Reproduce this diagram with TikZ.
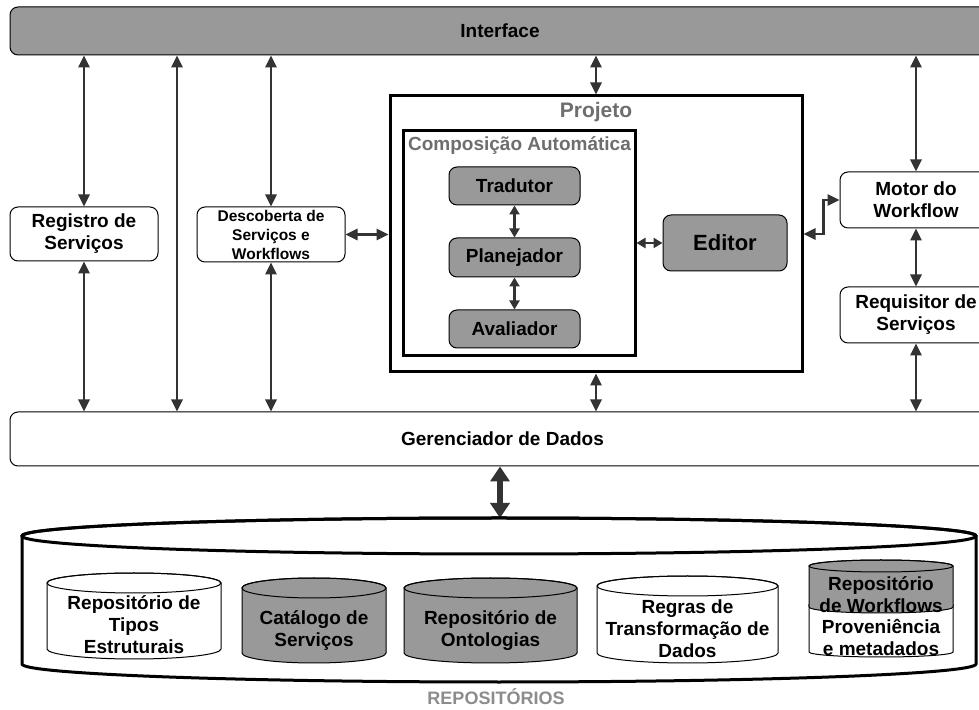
\documentclass[tikz,border=0pt]{standalone}
\usepackage{fontspec}
\setmainfont{Liberation Sans}
\usetikzlibrary{arrows.meta}
\definecolor{boxgray}{HTML}{999999}
\definecolor{arrowgray}{HTML}{333333}
\definecolor{titlegray}{HTML}{6E6E6E}
\definecolor{labelgray}{HTML}{8C8C8C}

\newcommand{\repoCylinder}[6]{%
	\path[draw, line width=1pt, fill=#6] (#1-#2,#3) -- (#1-#2,#4) arc[start angle=180, end angle=360, x radius=#2, y radius=#5] -- (#1+#2,#3) arc[start angle=0, end angle=180, x radius=#2, y radius=#5] -- cycle;
	\draw[line width=1pt] (#1,#3) ellipse[x radius=#2, y radius=#5];
}

\begin{document}
\begin{tikzpicture}[x = 1pt, y = 1pt, font=\fontsize{19}{22}\selectfont\bfseries]
	\tikzstyle{boxStyle} = [draw, rounded corners = 8pt, fill = white, align = center, inner sep = 0pt, line width = 1pt]
	\tikzstyle{grayBoxStyle} = [boxStyle, fill = boxgray]
	\tikzstyle{frameStyle} = [draw, line width = 3pt, inner sep = 0pt, fill = white]
	\tikzstyle{textStyle} = [align = center, inner sep = 0pt]
	\tikzstyle{linkStyle} = [draw = arrowgray, line width = 2.6pt, {Triangle[width = 11pt, length = 12pt]}-{Triangle[width = 11pt, length = 12pt]}]
	\tikzstyle{shortLinkStyle} = [draw = arrowgray, line width = 2.4pt, {Triangle[width = 10pt, length = 9pt]}-{Triangle[width = 10pt, length = 9pt]}]
	\tikzstyle{bigLinkStyle} = [draw = arrowgray, line width = 6pt, {Triangle[width = 19pt, length = 15pt]}-{Triangle[width = 19pt, length = 15pt]}]
	\clip (0,0) rectangle (979,709);
	\fill[white] (0,0) rectangle (979,709);
	\node[grayBoxStyle, minimum width = 980pt, minimum height = 48pt] (ifc) at (500,678) {Interface};
	\node[boxStyle, minimum width = 985pt, minimum height = 54pt] (dat) at (502.5,270) {Gerenciador de Dados};
	\node[boxStyle, minimum width = 148pt, minimum height = 54pt] (reg) at (84,475) {Registro de\\Serviços};
	\node[boxStyle, minimum width = 148pt, minimum height = 55pt, font = \fontsize{15.5}{19}\selectfont\bfseries] (desc) at (271,474.5) {Descoberta de\\Serviços e\\Workflows};
	\node[frameStyle, minimum width = 412pt, minimum height = 276pt] (proj) at (596,475) {};
	\node[textStyle, text = titlegray, font = \fontsize{21}{24}\selectfont\bfseries] (projLabel) at (596,597) {Projeto};
	\node[frameStyle, minimum width = 232pt, minimum height = 225pt] (comp) at (519,465.5) {};
	\node[textStyle, text = titlegray] (compLabel) at (519.5,563) {Composição Automática};
	\node[grayBoxStyle, minimum width = 131pt, minimum height = 38pt] (trad) at (514.5,523) {Tradutor};
	\node[grayBoxStyle, minimum width = 131pt, minimum height = 39pt] (plan) at (514.5,451.5) {Planejador};
	\node[grayBoxStyle, minimum width = 131pt, minimum height = 38pt] (aval) at (514.5,380) {Avaliador};
	\node[grayBoxStyle, minimum width = 124pt, minimum height = 56pt, font = \fontsize{22}{24}\selectfont\bfseries] (edt) at (725,466) {Editor};
	\node[boxStyle, minimum width = 152pt, minimum height = 56pt] (mot) at (916,509) {Motor do\\Workflow};
	\node[boxStyle, minimum width = 152pt, minimum height = 56pt] (req) at (916,394) {Requisitor de\\Serviços};
	\coordinate (midLink) at (177,0);
	\coordinate (repoTop) at (500,191);
	\draw[linkStyle] (ifc.south -| reg.north) -- (reg.north);
	\draw[linkStyle] (reg.south) -- (dat.north -| reg.south);
	\draw[linkStyle] (ifc.south -| midLink) -- (dat.north -| midLink);
	\draw[linkStyle] (ifc.south -| desc.north) -- (desc.north);
	\draw[linkStyle] (desc.south) -- (dat.north -| desc.south);
	\draw[linkStyle] (desc.east) -- (proj.west |- desc.east);
	\draw[linkStyle] (ifc.south -| proj.north) -- (proj.north);
	\draw[linkStyle] (proj.south) -- (dat.north -| proj.south);
	\draw[shortLinkStyle] (trad.south) -- (plan.north);
	\draw[shortLinkStyle] (plan.south) -- (aval.north);
	\draw[shortLinkStyle] (comp.east |- edt.west) -- (edt.west);
	\draw[linkStyle] (proj.east) -- ++(20,0) |- (mot.west);
	\draw[linkStyle] (ifc.south -| mot.north) -- (mot.north);
	\draw[linkStyle] (mot.south) -- (req.north);
	\draw[linkStyle] (req.south) -- (dat.north -| req.south);
	\draw[bigLinkStyle] (dat.south -| repoTop) -- (repoTop);
	\path[draw, line width = 3pt, fill = white] (22,173) -- (22,45) arc[start angle = 180, end angle = 360, x radius = 477, y radius = 18] -- (976,173) arc[start angle = 0, end angle = 180, x radius = 477, y radius = 18] -- cycle;
	\draw[line width = 3pt] (499,173) ellipse[x radius = 477, y radius = 18];
	\repoCylinder{134}{87}{126}{60}{10}{white}
	\repoCylinder{314}{72}{121}{56}{10}{boxgray}
	\repoCylinder{490.5}{86.5}{121}{56}{10}{boxgray}
	\repoCylinder{687.5}{90.5}{123}{56}{10}{white}
	\repoCylinder{881}{72}{104}{57}{5}{white}
	\repoCylinder{881}{72}{143}{102}{6}{boxgray}
	\node[textStyle] (tipos) at (134,84) {Repositório de\\Tipos\\Estruturais};
	\node[textStyle] (catalogo) at (314,78) {Catálogo de\\Serviços};
	\node[textStyle] (ontologias) at (490.5,78) {Repositório de\\Ontologias};
	\node[textStyle] (regras) at (687.5,80) {Regras de\\Transformação de\\Dados};
	\node[textStyle] (workflows) at (881,114.5) {Repositório\\de Workflows};
	\node[textStyle] (proveniencia) at (881,71.5) {Proveniência\\e metadados};
	\node[textStyle, text = labelgray, font = \fontsize{18}{20}\selectfont\bfseries] (repoLabel) at (496,12) {REPOSITÓRIOS};
\end{tikzpicture}
\end{document}
